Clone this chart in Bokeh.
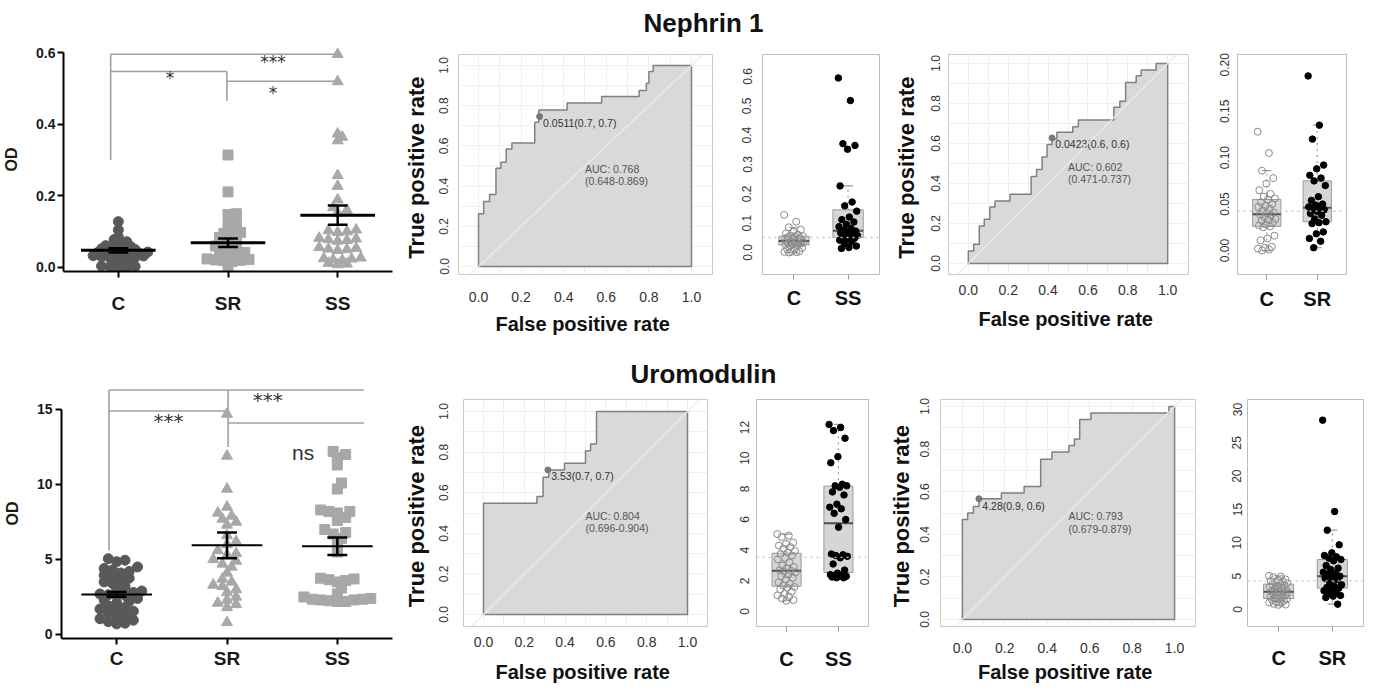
import numpy as np
from bokeh.plotting import figure
from bokeh.layouts import row, column
from bokeh.models import Range1d, FixedTicker, NumeralTickFormatter, Span, Slope
from bokeh.core.properties import value
from bokeh.embed import file_html
from bokeh.resources import INLINE

FONT = "Liberation Sans"

# ---------------- data ----------------
groups = ["C", "SR", "SS"]

neph_C = [0.128, 0.105, 0.086, 0.078, 0.072, 0.065, 0.061, 0.058, 0.056, 0.055, 0.052, 0.050,
          0.048, 0.047, 0.045, 0.043, 0.041, 0.040, 0.039, 0.038, 0.036, 0.034, 0.033, 0.032,
          0.030, 0.028, 0.027, 0.026, 0.025, 0.016, 0.013, 0.011, 0.004, 0.003, 0.002, 0.001, 0.000]
neph_SR_dot = [0.314, 0.211, 0.150, 0.148, 0.121, 0.118, 0.098, 0.095, 0.092, 0.084, 0.082, 0.080,
               0.072, 0.068, 0.063, 0.060, 0.058, 0.055, 0.048, 0.042, 0.040, 0.038, 0.036, 0.024,
               0.022, 0.021, 0.020, 0.019, 0.017, 0.004]
neph_SS_dot = [0.595, 0.519, 0.373, 0.364, 0.354, 0.257, 0.227, 0.189, 0.167, 0.160, 0.152, 0.105,
               0.103, 0.100, 0.098, 0.082, 0.080, 0.078, 0.076, 0.074, 0.056, 0.054, 0.052, 0.050,
               0.048, 0.027, 0.025, 0.024, 0.022, 0.020, 0.012, 0.010, 0.008]
neph_SR_box = [0.188, 0.135, 0.120, 0.092, 0.088, 0.081, 0.078, 0.075, 0.070, 0.058, 0.054, 0.050,
               0.049, 0.047, 0.046, 0.045, 0.044, 0.042, 0.040, 0.038, 0.034, 0.031, 0.030, 0.029,
               0.020, 0.018, 0.013, 0.010, 0.003]
neph_SS_box = [0.595, 0.518, 0.371, 0.365, 0.352, 0.227, 0.172, 0.159, 0.141, 0.121, 0.112, 0.104,
               0.096, 0.088, 0.082, 0.076, 0.073, 0.070, 0.067, 0.064, 0.061, 0.058, 0.055, 0.052,
               0.049, 0.046, 0.042, 0.036, 0.031, 0.022, 0.017, 0.014]
neph_mean = [0.048, 0.069, 0.146]
neph_sem = [0.006, 0.012, 0.027]

uro_C = [5.05, 4.95, 4.85, 4.5, 4.4, 4.3, 4.2, 4.1, 3.95, 3.85, 3.75, 3.65, 3.5, 3.4, 3.2, 3.0,
         2.9, 2.8, 2.7, 2.65, 2.6, 2.55, 2.4, 2.3, 2.2, 2.1, 1.9, 1.8, 1.7, 1.6, 1.55, 1.45,
         1.3, 1.15, 1.05, 0.95, 0.85, 0.75, 0.7]
uro_SR = [28.4, 14.7, 11.9, 9.7, 8.5, 8.1, 7.9, 7.7, 7.5, 7.3, 6.6, 6.2, 6.0, 5.6, 5.4, 5.3,
          5.0, 4.9, 4.7, 4.5, 4.1, 3.7, 3.5, 3.3, 3.2, 3.0, 2.8, 2.5, 2.3, 2.1, 2.0, 1.8, 0.8]
uro_SS = [12.2, 12.0, 11.8, 11.3, 10.1, 9.7, 8.3, 8.2, 8.2, 8.1, 7.8, 7.6, 7.0, 6.8, 6.7, 6.4,
          6.0, 5.5, 3.75, 3.7, 3.65, 3.6, 3.5, 3.1, 2.7, 2.5, 2.4, 2.35, 2.35, 2.3, 2.3, 2.25,
          2.2, 2.2]
uro_mean = [2.67, 5.94, 5.88]
uro_sem = [0.16, 0.86, 0.59]

roc1_fpr = [0, 0, 0.024, 0.052, 0.082, 0.105, 0.130, 0.157, 0.264, 0.283, 0.416, 0.578, 0.754, 0.788, 0.800, 0.820, 1.0]
roc1_tpr = [0, 0.262, 0.323, 0.358, 0.489, 0.519, 0.585, 0.615, 0.718, 0.779, 0.813, 0.846, 0.876, 0.912, 0.970, 1.0, 1.0]
roc2_fpr = [0, 0, 0.027, 0.055, 0.080, 0.108, 0.134, 0.209, 0.315, 0.342, 0.370, 0.395, 0.420, 0.444,
            0.524, 0.552, 0.730, 0.760, 0.789, 0.842, 0.867, 0.942, 1.0]
roc2_tpr = [0, 0.063, 0.096, 0.188, 0.221, 0.282, 0.312, 0.346, 0.435, 0.470, 0.532, 0.595, 0.623, 0.656,
            0.684, 0.718, 0.781, 0.811, 0.905, 0.939, 0.967, 1.0, 1.0]
roc3_fpr = [0, 0, 0.262, 0.292, 0.320, 0.397, 0.500, 0.525, 0.554, 1.0]
roc3_tpr = [0, 0.548, 0.581, 0.676, 0.712, 0.745, 0.807, 0.840, 1.0, 1.0]
roc4_fpr = [0, 0, 0.025, 0.052, 0.078, 0.184, 0.291, 0.369, 0.422, 0.502, 0.528, 0.553, 0.606, 0.973, 1.0]
roc4_tpr = [0, 0.469, 0.500, 0.531, 0.567, 0.594, 0.625, 0.752, 0.786, 0.817, 0.848, 0.939, 0.970, 1.0, 1.0]

roc_cut_fpr = [0.287, 0.420, 0.316, 0.078]
roc_cut_tpr = [0.746, 0.628, 0.712, 0.567]
roc_cut_labels = ["0.0511(0.7, 0.7)", "0.0423(0.6, 0.6)", "3.53(0.7, 0.7)", "4.28(0.9, 0.6)"]
roc_auc_labels = ["AUC: 0.768", "AUC: 0.602", "AUC: 0.804", "AUC: 0.793"]
roc_ci_labels = ["(0.648-0.869)", "(0.471-0.737)", "(0.696-0.904)", "(0.679-0.879)"]
box_cutoffs = [0.0511, 0.0423, 3.53, 4.28]

roc_ticks = [0.0, 0.2, 0.4, 0.6, 0.8, 1.0]
neph_yticks = [0.0, 0.2, 0.4, 0.6]
uro_yticks = [0, 5, 10, 15]

neph_br = dict(left=0.43, mid=1.49, right=2.50, top=0.595, mid_top=0.547, mid_y=0.547,
               right_y=0.520, drop_left=0.30, drop_mid=0.465)
neph_star_text = ["***", "*", "*"]
neph_star_x = [1.91, 0.97, 1.91]
neph_star_y = [0.573, 0.528, 0.488]
uro_br = dict(left=0.43, mid=1.51, right=2.74, top=16.3, mid_top=16.3, mid_y=14.9,
              right_y=14.1, drop_left=5.6, drop_mid=12.5)
uro_star_text = ["***", "***", "ns"]
uro_star_x = [1.87, 0.97, 2.19]
uro_star_y = [15.65, 14.25, 12.1]


def base_fig(w, h, mb, xr, yr):
    l, r, t, b = mb
    p = figure(width=w, height=h, x_range=Range1d(*xr), y_range=Range1d(*yr), title=None,
               toolbar_location=None, output_backend="svg",
               min_border_left=l, min_border_right=r, min_border_top=t, min_border_bottom=b)
    p.background_fill_color = "white"
    p.border_fill_color = "white"
    return p


def swarm_offsets(vals, ppx, ppy, diam, sep):
    vals = np.asarray(vals, float)
    order = np.argsort(vals)
    px, py = [], []
    offs = np.zeros(len(vals))
    step = diam * 0.42
    for idx in order:
        y = vals[idx] * ppy
        off = 0.0
        for k in range(0, 400):
            n = (k + 1) // 2
            off = 0.0 if k == 0 else n * step * (1 if k % 2 == 1 else -1)
            if all((a - off) ** 2 + (b - y) ** 2 >= (diam * sep) ** 2 for a, b in zip(px, py)):
                break
        px.append(off)
        py.append(y)
        offs[idx] = off / ppx
    return offs


def dot_panel(w, h, mb, yr, ppx, ppy, series, markers, colors, sizes, means, sems, half,
              yticks, yfmt, ytop, br, st_text, st_x, st_y, st_sizes, st_fonts,
              xlab_std, ylab_std, od_std, mean_w, sep):
    p = base_fig(w, h, mb, (0, 3), yr)
    p.outline_line_color = None
    p.grid.visible = False
    centers = [0.5, 1.5, 2.5]
    x0 = [br["left"], br["left"], br["left"], br["mid"], br["mid"]]
    x1 = [br["right"], br["left"], br["mid"], br["mid"], br["right"]]
    y0 = [br["top"], br["top"], br["mid_y"], br["mid_top"], br["right_y"]]
    y1 = [br["top"], br["drop_left"], br["mid_y"], br["drop_mid"], br["right_y"]]
    p.segment(x0=x0, y0=y0, x1=x1, y1=y1, line_color="#a0a0a0", line_width=1.6)
    for i, (vals, mk, col, sz) in enumerate(zip(series, markers, colors, sizes)):
        offs = swarm_offsets(vals, ppx, ppy, sz, sep)
        p.scatter(x=[centers[i] + o for o in offs], y=vals, marker=mk, size=sz,
                  fill_color=col, line_color=col)
    lo = [m - s for m, s in zip(means, sems)]
    hi = [m + s for m, s in zip(means, sems)]
    p.segment(x0=[c - half for c in centers], x1=[c + half for c in centers], y0=means, y1=means,
              line_color="black", line_width=mean_w)
    p.segment(x0=centers, x1=centers, y0=lo, y1=hi, line_color="black", line_width=2.5)
    cap = 0.09
    p.segment(x0=[c - cap for c in centers] * 2, x1=[c + cap for c in centers] * 2,
              y0=lo + hi, y1=lo + hi, line_color="black", line_width=2.5)
    for t, x, y, s, f in zip(st_text, st_x, st_y, st_sizes, st_fonts):
        p.text(x=[x], y=[y], text=[t], text_font=value(f), text_font_size=value(s),
               text_color="#333333", text_align="center", text_baseline="middle")
    p.xaxis.ticker = FixedTicker(ticks=centers)
    p.xaxis.major_label_overrides = {c: g for c, g in zip(centers, groups)}
    p.yaxis.ticker = FixedTicker(ticks=yticks)
    p.yaxis.formatter = NumeralTickFormatter(format=yfmt)
    p.yaxis.bounds = (yr[0], ytop)
    for ax in (p.xaxis, p.yaxis):
        ax.axis_line_color = "black"
        ax.axis_line_width = 2
        ax.major_tick_line_color = "black"
        ax.major_tick_line_width = 2
        ax.major_tick_out = 6
        ax.major_tick_in = 0
        ax.minor_tick_line_color = None
        ax.major_label_text_font = FONT
        ax.major_label_text_font_style = "bold"
        ax.major_label_text_color = "#1a1a1a"
    p.xaxis.major_label_text_font_size = "19px"
    p.xaxis.major_label_standoff = xlab_std
    p.yaxis.major_label_text_font_size = "14px"
    p.yaxis.major_label_standoff = ylab_std
    p.yaxis.axis_label = "OD"
    p.yaxis.axis_label_text_font = FONT
    p.yaxis.axis_label_text_font_style = "bold"
    p.yaxis.axis_label_text_font_size = "16px"
    p.yaxis.axis_label_text_color = "#1a1a1a"
    p.yaxis.axis_label_standoff = od_std
    return p


def roc_panel(w, h, mb, xr, yr, fpr, tpr, k, xstd, xtstd, ystd, ytstd):
    p = base_fig(w, h, mb, xr, yr)
    p.outline_line_color = "#c8c8c8"
    p.xgrid.ticker = FixedTicker(ticks=[i / 10 for i in range(11)])
    p.ygrid.ticker = FixedTicker(ticks=[i / 10 for i in range(11)])
    p.grid.grid_line_color = "#efefef"
    sx, sy = [fpr[0]], [tpr[0]]
    for i in range(1, len(fpr)):
        sx += [fpr[i], fpr[i]]
        sy += [tpr[i - 1], tpr[i]]
    p.patch(x=sx + [1.0], y=sy + [0.0], fill_color="#d9d9d9", line_color="#808080", line_width=1.5)
    p.add_layout(Slope(gradient=1, y_intercept=0, line_color="#ececec", line_width=1.2))
    p.scatter(x=[roc_cut_fpr[k]], y=[roc_cut_tpr[k]], marker="circle", size=6,
              fill_color="#777777", line_color="#777777")
    p.text(x=[roc_cut_fpr[k] + 0.016], y=[roc_cut_tpr[k] - 0.032], text=[roc_cut_labels[k]],
           text_font=value(FONT), text_font_size=value("10.5px"), text_color="#333333",
           text_align="left", text_baseline="middle")
    p.text(x=[0.5, 0.5], y=[0.485, 0.425], text=[roc_auc_labels[k], roc_ci_labels[k]],
           text_font=value(FONT), text_font_size=value("10.5px"), text_color="#555555",
           text_align="left", text_baseline="middle")
    for ax in (p.xaxis, p.yaxis):
        ax.ticker = FixedTicker(ticks=roc_ticks)
        ax.formatter = NumeralTickFormatter(format="0.0")
        ax.axis_line_color = None
        ax.major_tick_line_color = None
        ax.minor_tick_line_color = None
        ax.major_tick_out = 0
        ax.major_tick_in = 0
        ax.major_label_text_font = FONT
        ax.major_label_text_color = "#333333"
        ax.axis_label_text_font = FONT
        ax.axis_label_text_font_style = "bold"
        ax.axis_label_text_color = "#111111"
    p.xaxis.major_label_text_font_size = "14px"
    p.yaxis.major_label_text_font_size = "12px"
    p.yaxis.major_label_orientation = "vertical"
    p.xaxis.major_label_standoff = xstd
    p.yaxis.major_label_standoff = ystd
    p.xaxis.axis_label = "False  positive rate"
    p.yaxis.axis_label = "True  positive rate"
    p.xaxis.axis_label_text_font_size = "20px"
    p.yaxis.axis_label_text_font_size = "22px"
    p.xaxis.axis_label_standoff = xtstd
    p.yaxis.axis_label_standoff = ytstd
    return p


def box_panel(w, h, mb, yr, g1, g2, lab2, yticks, yfmt, cutoff, ystd, xstd):
    p = base_fig(w, h, mb, (0.42, 2.58), yr)
    p.grid.visible = False
    p.outline_line_color = "#bdbdbd"
    bw = 0.28
    for pos, vals in [(1, g1), (2, g2)]:
        v = np.sort(np.asarray(vals, float))
        q1, med, q3 = np.percentile(v, [25, 50, 75])
        iqr = q3 - q1
        lo = v[v >= q1 - 1.5 * iqr].min()
        hi = v[v <= q3 + 1.5 * iqr].max()
        p.segment(x0=[pos, pos], x1=[pos, pos], y0=[q3, q1], y1=[hi, lo], line_color="#9a9a9a",
                  line_dash="dotted", line_width=1.2)
        p.segment(x0=[pos - 0.09] * 2, x1=[pos + 0.09] * 2, y0=[hi, lo], y1=[hi, lo],
                  line_color="#9a9a9a", line_width=1.2)
        p.quad(left=[pos - bw], right=[pos + bw], bottom=[q1], top=[q3],
               fill_color="#d6d6d6", line_color="#9a9a9a", line_width=1)
        p.segment(x0=[pos - bw], x1=[pos + bw], y0=[med], y1=[med], line_color="#4d4d4d", line_width=2)
    p.add_layout(Span(location=cutoff, dimension="width", line_color="#c4c4c4",
                      line_dash="dotted", line_width=1.3))
    for pos, vals, filled in [(1, g1, False), (2, g2, True)]:
        n = len(vals)
        jit = ((np.arange(n) * 0.6180339887) % 1.0 - 0.5) * 0.36
        if filled:
            p.scatter(x=pos + jit, y=vals, marker="circle", size=6.5, fill_color="black", line_color="black")
        else:
            p.scatter(x=pos + jit, y=vals, marker="circle", size=7, fill_color=None,
                      line_color="#8a8a8a", line_width=1)
    p.xaxis.ticker = FixedTicker(ticks=[1, 2])
    p.xaxis.major_label_overrides = {1: "C", 2: lab2}
    p.xaxis.axis_line_color = None
    p.xaxis.major_tick_line_color = "#9a9a9a"
    p.xaxis.major_tick_out = 5
    p.xaxis.major_tick_in = 0
    p.xaxis.minor_tick_line_color = None
    p.xaxis.major_label_text_font = FONT
    p.xaxis.major_label_text_font_style = "bold"
    p.xaxis.major_label_text_font_size = "20px"
    p.xaxis.major_label_text_color = "#111111"
    p.xaxis.major_label_standoff = xstd
    p.yaxis.ticker = FixedTicker(ticks=yticks)
    p.yaxis.formatter = NumeralTickFormatter(format=yfmt)
    p.yaxis.axis_line_color = None
    p.yaxis.major_tick_line_color = None
    p.yaxis.minor_tick_line_color = None
    p.yaxis.major_tick_out = 0
    p.yaxis.major_label_orientation = "vertical"
    p.yaxis.major_label_text_font = FONT
    p.yaxis.major_label_text_font_size = "12px"
    p.yaxis.major_label_text_color = "#333333"
    p.yaxis.major_label_standoff = ystd
    return p


def title_fig(h, text, mid_y):
    p = figure(width=1390, height=h, x_range=Range1d(0, 1390), y_range=Range1d(0, h), title=None,
               toolbar_location=None, output_backend="svg", min_border=0,
               x_axis_location=None, y_axis_location=None)
    p.grid.visible = False
    p.outline_line_color = None
    p.background_fill_color = "white"
    p.border_fill_color = "white"
    p.text(x=[703], y=[mid_y], text=[text], text_font=value(FONT), text_font_size=value("26px"),
           text_font_style="bold", text_align="center", text_baseline="middle",
           text_color="#111111")
    return p


# ---------------- row 1 : Nephrin 1 ----------------
t1 = title_fig(44, "Nephrin 1", 22)
a1 = dot_panel(400, 296, (63, 8, 3, 69), (-0.0112, 0.614), 109.67, 358.3,
               [neph_C, neph_SR_dot, neph_SS_dot], ["circle", "square", "triangle"],
               ["#595959", "#a8a8a8", "#a8a8a8"], [10, 10, 11], neph_mean, neph_sem, 0.34,
               neph_yticks, "0.0", 0.6, neph_br, neph_star_text, neph_star_x, neph_star_y,
               ["17px", "17px", "17px"], ["DejaVu Sans"] * 3, 15, 2, 13, 3, 0.5)
b1 = roc_panel(325, 296, (58, 13, 10, 66), (-0.0939, 1.0986), (-0.0398, 1.0547),
               roc1_fpr, roc1_tpr, 0, 17, 8, 10, 8)
c1 = box_panel(165, 296, (37, 11, 10, 66), (-0.075, 0.675), neph_C, neph_SS_box, "SS",
               [0.0, 0.1, 0.2, 0.3, 0.4, 0.5, 0.6], "0.0", box_cutoffs[0], 11, 7)
d1 = roc_panel(322, 296, (57, 24, 10, 66), (-0.0995, 1.1045), (-0.055, 1.045),
               roc2_fpr, roc2_tpr, 1, 10, 10, 9, 9)
e1 = box_panel(178, 296, (25, 44, 10, 66), (-0.0258, 0.2111), neph_C, neph_SR_box, "SR",
               [0.0, 0.05, 0.10, 0.15, 0.20], "0.00", box_cutoffs[1], 8, 8)

# ---------------- row 2 : Uromodulin ----------------
t2 = title_fig(48, "Uromodulin", 15)
a2 = dot_panel(400, 300, (59, 8, 0, 50), (-0.27, 16.4), 111.0, 15.0,
               [uro_C, uro_SR, uro_SS], ["circle", "triangle", "square"],
               ["#595959", "#a8a8a8", "#a8a8a8"], [10, 11, 10], uro_mean, uro_sem, 0.32,
               uro_yticks, "0", 15, uro_br, uro_star_text, uro_star_x, uro_star_y,
               ["20px", "20px", "21px"], ["DejaVu Sans", "DejaVu Sans", FONT], 3, 3, 13, 2, 0.62)
b2 = roc_panel(325, 300, (63, 18, 11, 62), (-0.098, 1.098), (-0.0591, 1.0591),
               roc3_fpr, roc3_tpr, 2, 10, 11, 15, 8)
c2 = box_panel(160, 300, (31, 17, 11, 62), (-0.978, 13.826), uro_C, uro_SS, "SS",
               [0, 2, 4, 6, 8, 10, 12], "0", box_cutoffs[2], 7, 16)
d2 = roc_panel(327, 300, (54, 17, 11, 62), (-0.103, 1.0986), (-0.0329, 1.0329),
               roc4_fpr, roc4_tpr, 3, 16, 5, 11, 4)
e2 = box_panel(178, 300, (35, 27, 11, 62), (-2.55, 31.5), uro_C, uro_SR, "SR",
               [0, 5, 10, 15, 20, 25, 30], "0", box_cutoffs[3], 6, 15)

layout = column(t1, row(column(a1), b1, c1, d1, e1), t2, row(column(a2), b2, c2, d2, e2))

open("out.html", "w").write(file_html(layout, INLINE))
